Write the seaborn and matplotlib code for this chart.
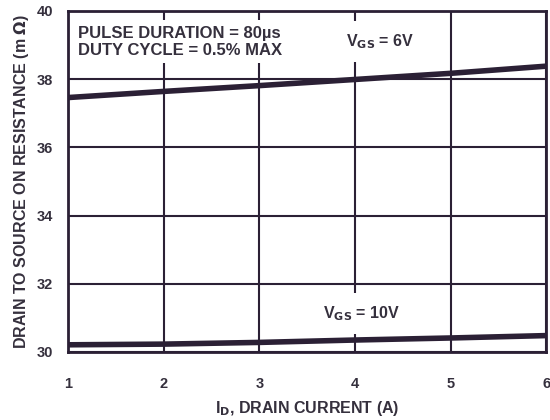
import matplotlib
matplotlib.use("Agg")
import matplotlib.pyplot as plt
import seaborn as sns
import pandas as pd

drain_current = [1, 2, 3, 4, 5, 6]
rds_vgs6 = [37.46, 37.64, 37.81, 37.99, 38.17, 38.38]
rds_vgs10 = [30.21, 30.23, 30.28, 30.35, 30.41, 30.48]

df = pd.DataFrame({
    "id": drain_current * 2,
    "rds": rds_vgs6 + rds_vgs10,
    "vgs": ["6V"] * 6 + ["10V"] * 6,
})

sns.set_style("white")
plt.rcParams["font.family"] = ["Liberation Sans", "DejaVu Sans"]
plt.rcParams["font.weight"] = "bold"

ink = "#2b2035"
txt = "#35303d"
fig, ax = plt.subplots(figsize=(5.5, 4.2), dpi=100)
fig.subplots_adjust(left=0.124, right=0.993, top=0.974, bottom=0.162)

sns.lineplot(data=df, x="id", y="rds", hue="vgs", palette=[ink, ink],
             linewidth=4, legend=False, ax=ax, zorder=3)

ax.set_xlim(1, 6)
ax.set_ylim(30, 40)
ax.set_xticks(range(1, 7))
ax.set_yticks(range(30, 41, 2))
ax.grid(True, color=ink, linewidth=1.5)
for s in ax.spines.values():
    s.set_color(ink)
    s.set_linewidth(2)
ax.tick_params(axis="x", length=0, labelsize=10.5, pad=18, colors=txt)
ax.tick_params(axis="y", length=0, labelsize=10.5, pad=11, colors=txt)

ax.set_xlabel(r"I$_\mathbf{D}$, DRAIN CURRENT (A)", fontsize=11.5, fontweight="bold",
              color=txt, labelpad=6)
ax.set_ylabel(r"DRAIN TO SOURCE ON RESISTANCE (m $\Omega$)", fontsize=11.5,
              fontweight="bold", color=txt, labelpad=4)

box = dict(facecolor="white", edgecolor="none", pad=4)
ax.text(1.105, 39.1, "PULSE DURATION = 80\u00b5s\nDUTY CYCLE = 0.5% MAX", fontsize=12,
        fontweight="bold", color=txt, va="center", ha="left", bbox=box,
        linespacing=1.15, zorder=4)
ax.text(3.91, 39.09, r"V$_\mathbf{GS}$ = 6V", fontsize=11.5, fontweight="bold",
        color=txt, va="center", ha="left", bbox=dict(facecolor="white", edgecolor="none", pad=8), zorder=4)
ax.text(3.67, 31.12, r"V$_\mathbf{GS}$ = 10V", fontsize=11.5, fontweight="bold",
        color=txt, va="center", ha="left", bbox=dict(facecolor="white", edgecolor="none", pad=8), zorder=4)

fig.savefig("out.png", dpi=100)
